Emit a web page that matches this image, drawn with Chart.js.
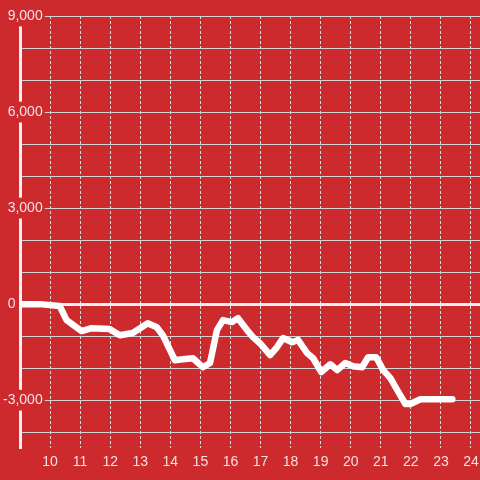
<!DOCTYPE html>
<html>
<head>
<meta charset="utf-8">
<script src="https://cdn.jsdelivr.net/npm/chart.js@4"></script>
<style>
  html, body { margin: 0; padding: 0; background: #cd2a2e; }
  #chart { display: block; }
</style>
</head>
<body>
<canvas id="chart" width="480" height="480"></canvas>
<script>
// values
const hours = [9.0, 9.65, 10.32, 10.55, 11.05, 11.38, 11.98, 12.32, 12.75, 13.25,
	13.55, 13.75, 14.15, 14.42, 14.75, 15.08, 15.32, 15.55, 15.75, 16.05,
	16.25, 16.55, 16.75, 16.98, 17.32, 17.55, 17.75, 18.05, 18.25, 18.55,
	18.75, 19.02, 19.32, 19.55, 19.82, 20.08, 20.38, 20.58, 20.85, 21.08,
	21.32, 21.55, 21.82, 21.98, 22.32, 22.65, 23.38];
const values = [0, 0, -60, -500, -840, -750, -780, -970, -900, -600,
	-720, -970, -1750, -1720, -1690, -1970, -1840, -810, -500, -560,
	-440, -810, -1030, -1220, -1590, -1340, -1060, -1190, -1120, -1530,
	-1690, -2120, -1880, -2060, -1840, -1940, -1970, -1660, -1660, -2060,
	-2310, -2690, -3120, -3120, -2970, -2970, -2970];
const yGridValues = [-4000, -3000, -2000, -1000, 0, 1000, 2000, 3000, 4000, 5000, 6000, 7000, 8000, 9000];
const yLabelValues = [-3000, 0, 3000, 6000, 9000];
const xTickValues = [10, 11, 12, 13, 14, 15, 16, 17, 18, 19, 20, 21, 22, 23, 24];

const bg = "#cd2a2e";
const points = [];
for (let i = 0; i < hours.length; i++) {
	points.push({ x: hours[i], y: values[i] });
}

Chart.defaults.font.family = "'Liberation Sans', Arial, sans-serif";
Chart.defaults.font.size = 14;

var ctx = document.getElementById("chart").getContext("2d");
var myChart = new Chart(ctx, {
	type: "line",
	data: {
		datasets: [{
			data: points,
			borderColor: "#ffffff",
			borderWidth: 6.5,
			borderCapStyle: "round",
			borderJoinStyle: "round",
			pointRadius: 0,
			tension: 0,
			fill: false
		}]
	},
	options: {
		responsive: false,
		animation: false,
		layout: { padding: { left: 20, top: 16, right: 0, bottom: 3 } },
		plugins: { legend: { display: false }, tooltip: { enabled: false } },
		scales: {
			x: {
				type: "linear",
				min: 9,
				max: 24.3,
				afterBuildTicks: function(scale) {
					scale.ticks = xTickValues.map(function(v) { return { value: v }; });
				},
				afterFit: function(scale) { scale.paddingLeft = 0; scale.paddingRight = 0; },
				border: { display: false, dash: [3, 2] },
				grid: {
					drawTicks: false,
					lineWidth: 1,
					color: "#dcdcdc"
				},
				ticks: {
					autoSkip: false,
					maxRotation: 0,
					padding: 6,
					color: "rgba(255,255,255,0.85)",
					callback: function(v) { return String(v); }
				}
			},
			y: {
				position: "left",
				min: -4500,
				max: 9000,
				afterBuildTicks: function(scale) {
					scale.ticks = yGridValues.map(function(v) { return { value: v }; });
				},
				afterFit: function(scale) { scale.width = 0; scale.paddingTop = 0; scale.paddingBottom = 0; },
				border: { display: true, color: "#f2f2f2", width: 3 },
				grid: {
					drawTicks: false,
					color: function(c) { return c.tick && c.tick.value === 0 ? "#eeeeee" : "#d4d4d4"; },
					lineWidth: function(c) { return c.tick && c.tick.value === 0 ? 3 : 1; }
				},
				ticks: {
					autoSkip: false,
					mirror: true,
					crossAlign: "far",
					padding: -17,
					color: "rgba(255,255,255,0.85)",
					showLabelBackdrop: function(c) {
						return c.tick && c.tick.value !== 0 && yLabelValues.includes(c.tick.value);
					},
					backdropColor: bg,
					backdropPadding: 2,
					callback: function(v) {
						if (!yLabelValues.includes(v)) return "";
						if (v === 0) return "0       ";
						return v.toLocaleString("en-US");
					}
				}
			}
		}
	}
});
</script>
</body>
</html>
